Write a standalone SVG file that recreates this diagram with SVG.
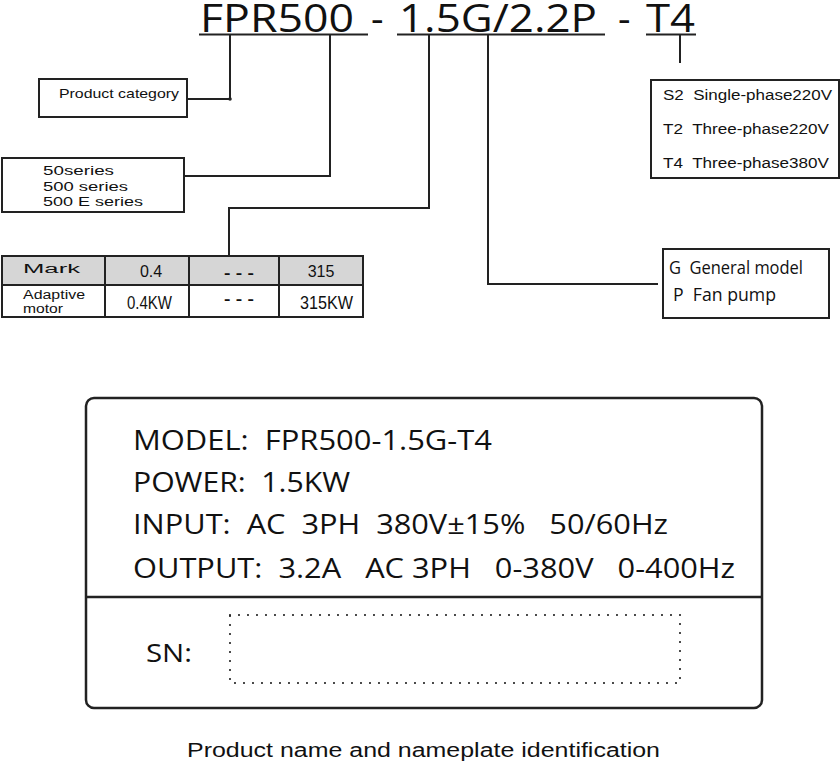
<svg xmlns="http://www.w3.org/2000/svg" width="840" height="764" viewBox="0 0 840 764">
<style>
.ln{fill:none;stroke:#222;stroke-width:2}
.box{fill:#fff;stroke:#222;stroke-width:2}
.ar{font-family:"Liberation Sans",Arial,sans-serif;fill:#111}
.hu{font-family:"Open Sans","Noto Sans",sans-serif;fill:#111}
</style>
<rect width="840" height="764" fill="#fff"/>
<g id="title">
<text class="hu" x="200" y="32" font-size="39" textLength="154" lengthAdjust="spacingAndGlyphs">FPR500</text>
<text class="hu" x="371" y="32" font-size="39">-</text>
<text class="hu" x="399" y="32" font-size="39" textLength="198" lengthAdjust="spacingAndGlyphs">1.5G/2.2P</text>
<text class="hu" x="618" y="32" font-size="39">-</text>
<text class="hu" x="646" y="32" font-size="39" textLength="49" lengthAdjust="spacingAndGlyphs">T4</text>
<path class="ln" d="M199 34.5H368M397 34.5H605M646 34.5H696"/>
</g>
<g id="connectors">
<path class="ln" d="M230 35V99H187"/>
<circle cx="230" cy="99" r="1.8" fill="#222"/>
<path class="ln" d="M330 35V176H184"/>
<path class="ln" d="M429 35V208H229V256"/>
<path class="ln" d="M488 35V284H658"/>
<path class="ln" d="M680 35V63"/>
</g>
<g id="product-category">
<rect class="box" x="39" y="79" width="148" height="38"/>
<text class="ar" x="59" y="98" font-size="13" textLength="120" lengthAdjust="spacingAndGlyphs">Product category</text>
</g>
<g id="series">
<rect class="box" x="2" y="158" width="182" height="54"/>
<text class="ar" x="43" y="175" font-size="13" textLength="71" lengthAdjust="spacingAndGlyphs">50series</text>
<text class="ar" x="43" y="191" font-size="13" textLength="85" lengthAdjust="spacingAndGlyphs">500 series</text>
<text class="ar" x="43" y="206" font-size="13" textLength="100" lengthAdjust="spacingAndGlyphs">500 E series</text>
</g>
<g id="power-table">
<rect x="2" y="256" width="361" height="29" fill="#d6d6d6"/>
<rect x="2" y="256" width="361" height="61" fill="none" stroke="#222" stroke-width="2"/>
<path class="ln" d="M2 285H363M105 256V317M189 256V317M279 256V317"/>
<text class="ar" x="23" y="273" font-size="12" textLength="57" lengthAdjust="spacingAndGlyphs">Mark</text>
<text class="ar" x="151" y="277" font-size="16" text-anchor="middle">0.4</text>
<text class="ar" x="239" y="278" font-size="14" font-weight="bold" text-anchor="middle" textLength="30" lengthAdjust="spacingAndGlyphs" xml:space="preserve">- - -</text>
<text class="ar" x="321" y="277" font-size="16" text-anchor="middle">315</text>
<text class="ar" x="23" y="299" font-size="12" textLength="62" lengthAdjust="spacingAndGlyphs">Adaptive</text>
<text class="ar" x="23" y="313" font-size="12" textLength="40" lengthAdjust="spacingAndGlyphs">motor</text>
<text class="ar" x="127" y="309" font-size="19" textLength="45" lengthAdjust="spacingAndGlyphs">0.4KW</text>
<text class="ar" x="239" y="304" font-size="14" font-weight="bold" text-anchor="middle" textLength="30" lengthAdjust="spacingAndGlyphs" xml:space="preserve">- - -</text>
<text class="ar" x="300" y="309" font-size="19" textLength="53" lengthAdjust="spacingAndGlyphs">315KW</text>
</g>
<g id="voltage">
<rect class="box" x="651" y="80" width="188" height="98"/>
<text class="ar" x="663" y="100" font-size="14" textLength="169" lengthAdjust="spacingAndGlyphs" xml:space="preserve">S2  Single-phase220V</text>
<text class="ar" x="663" y="134" font-size="14" textLength="166" lengthAdjust="spacingAndGlyphs" xml:space="preserve">T2  Three-phase220V</text>
<text class="ar" x="663" y="168" font-size="14" textLength="166" lengthAdjust="spacingAndGlyphs" xml:space="preserve">T4  Three-phase380V</text>
</g>
<g id="load-type">
<rect class="box" x="663" y="249" width="166" height="69"/>
<text class="hu" x="669" y="274" font-size="18" textLength="134" lengthAdjust="spacingAndGlyphs" xml:space="preserve">G  General model</text>
<text class="hu" x="673" y="301" font-size="18" textLength="103" lengthAdjust="spacingAndGlyphs" xml:space="preserve">P  Fan pump</text>
</g>
<g id="nameplate">
<rect x="86" y="398" width="676" height="310" rx="8" fill="#fff" stroke="#222" stroke-width="2.5"/>
<path d="M86 597H762" stroke="#222" stroke-width="2.5"/>
<text class="hu" x="133" y="450" font-size="27" textLength="359" lengthAdjust="spacingAndGlyphs" xml:space="preserve">MODEL:  FPR500-1.5G-T4</text>
<text class="hu" x="133" y="492" font-size="27" textLength="217" lengthAdjust="spacingAndGlyphs" xml:space="preserve">POWER:  1.5KW</text>
<text class="hu" x="133" y="534" font-size="27" textLength="535" lengthAdjust="spacingAndGlyphs" xml:space="preserve">INPUT:  AC  3PH  380V±15%   50/60Hz</text>
<text class="hu" x="133" y="578" font-size="27" textLength="602" lengthAdjust="spacingAndGlyphs" xml:space="preserve">OUTPUT:  3.2A   AC 3PH   0-380V   0-400Hz</text>
<text class="hu" x="146" y="662" font-size="25" textLength="46" lengthAdjust="spacingAndGlyphs">SN:</text>
<rect x="230" y="615" width="450" height="68" fill="none" stroke="#222" stroke-width="2.2" stroke-linecap="round" stroke-dasharray="0 9"/>
</g>
<g id="caption">
<text class="ar" x="187" y="757" font-size="20" textLength="473" lengthAdjust="spacingAndGlyphs">Product name and nameplate identification</text>
</g>
</svg>
